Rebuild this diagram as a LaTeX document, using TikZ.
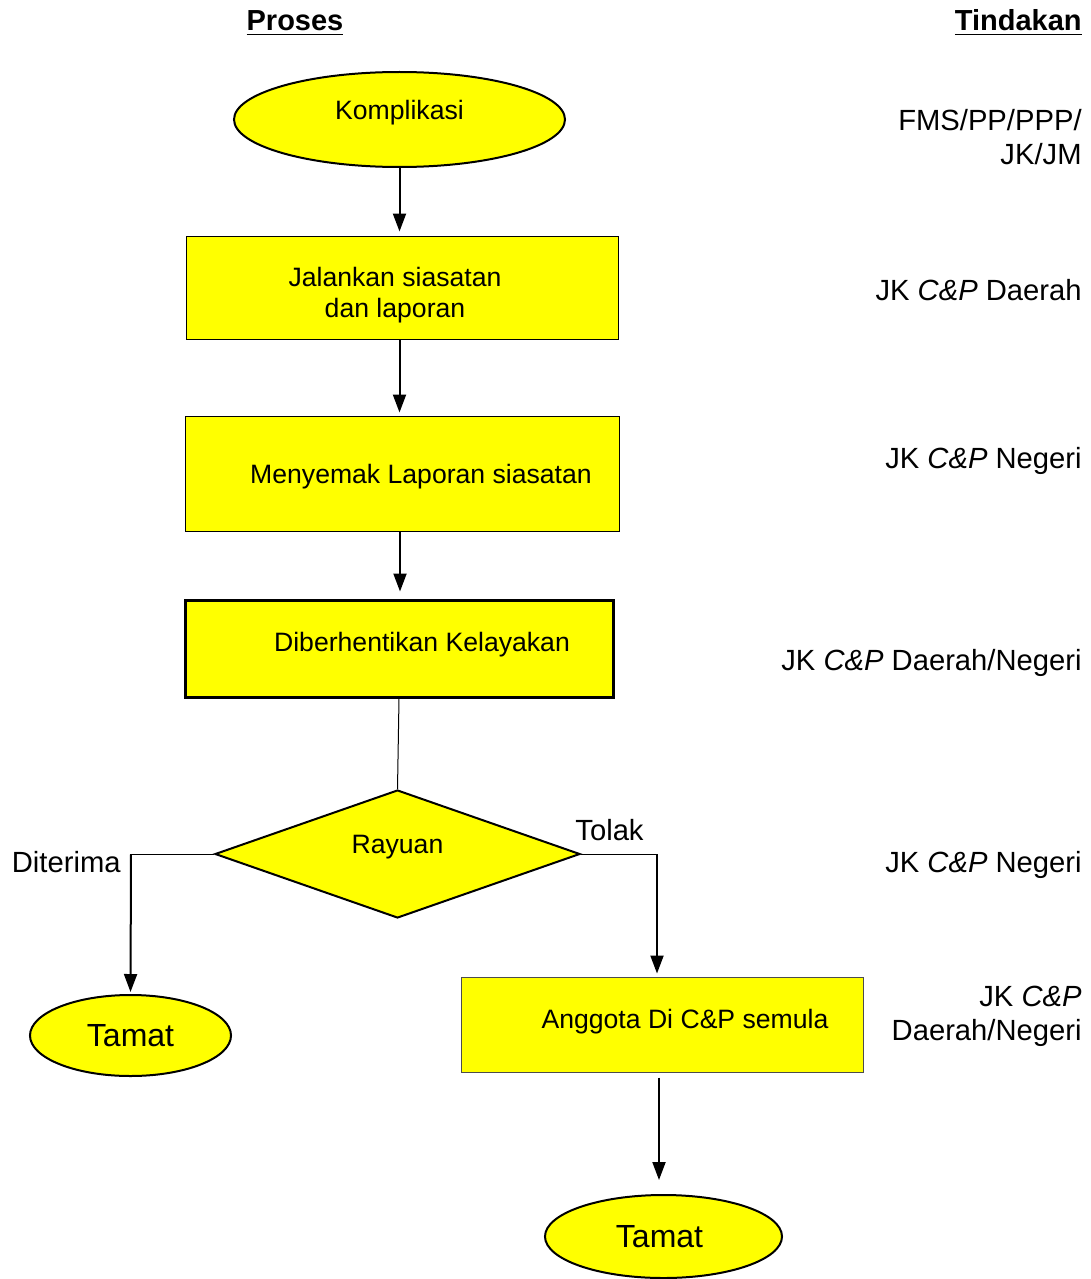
\documentclass[tikz,border=0pt]{standalone}
\usepackage{fontspec}
\setmainfont{Liberation Sans}
\usetikzlibrary{shapes.geometric}
\usetikzlibrary{arrows.meta}
\definecolor{kuning}{RGB}{255,255,0}

\begin{document}
\begin{tikzpicture}[x=0.5pt, y=-0.5pt, font=\fontsize{13.3}{15.5}\selectfont,
		kotak/.style={rectangle, draw, fill=kuning, inner sep=0pt, line width=0.5pt},
		hujung/.style={ellipse, draw, fill=kuning, inner sep=0pt, line width=1pt},
		keputusan/.style={diamond, aspect=2.85, draw, fill=kuning, inner sep=0pt, line width=1pt},
		panah/.style={-{Triangle[width=6.5pt, length=9pt]}, line width=1pt},
		garis/.style={line width=0.5pt},
		tindakan/.style={anchor=east, align=right, inner sep=0pt, font=\fontsize{14.6}{17}\selectfont},
		tajuk/.style={anchor=base, inner sep=0pt, font=\fontsize{14.5}{17}\selectfont\bfseries}]
		\useasboundingbox (0,0) rectangle (1091,1279);
		\node [tajuk] (proses) at (295,31) {\underline{Proses}};
		\node [tajuk, anchor=base east] (tindakan) at (1082,31) {\underline{Tindakan}};
		\node [hujung, minimum width=165.5pt, minimum height=47.5pt,
			label={[yshift=3.25pt]center:Komplikasi}] (komplikasi) at (399.5,119.5) {};
		\node [kotak, minimum width=216pt, minimum height=51.5pt,
			label={[align=center, xshift=-3.5pt, yshift=-4pt]center:Jalankan siasatan\\dan laporan}] (jalankan) at (402,287.5) {};
		\node [kotak, minimum width=217pt, minimum height=57.5pt,
			label={[xshift=9.5pt, yshift=-1.5pt]center:Menyemak Laporan siasatan}] (menyemak) at (402,473.5) {};
		\node [kotak, line width=1.5pt, minimum width=214pt, minimum height=48.5pt,
			label={[xshift=11.5pt, yshift=1.75pt]center:Diberhentikan Kelayakan}] (diberhentikan) at (399,648.5) {};
		\node [keputusan, minimum width=182.5pt, minimum height=64pt,
			label={[yshift=3.5pt]center:Rayuan}] (rayuan) at (397.5,854) {};
		\node [hujung, minimum width=100.5pt, minimum height=40.5pt, font=\fontsize{16}{19}\selectfont] (tamatkiri) at (130.5,1035.5) {Tamat};
		\node [kotak, draw=black!70, minimum width=201pt, minimum height=47.5pt,
			label={[xshift=11.5pt, yshift=1.25pt]center:Anggota Di C\&P semula}] (anggota) at (662,1024.5) {};
		\node [hujung, minimum width=118.5pt, minimum height=41.5pt, font=\fontsize{16}{19}\selectfont,
			label={[xshift=-2pt, font=\fontsize{16}{19}\selectfont]center:Tamat}] (tamatkanan) at (663.5,1236.5) {};
		\coordinate (kiri) at (131,854);
		\coordinate (kanan) at (657,854);

		\draw [panah, shorten >=2pt] (komplikasi.south) -- (komplikasi.south |- jalankan.north);
		\draw [panah, shorten >=1.5pt] (jalankan.south -| komplikasi) -- (komplikasi |- menyemak.north);
		\draw [panah, shorten >=3.5pt] (menyemak.south -| 400,0) -- (400,0 |- diberhentikan.north);
		\draw [garis] (diberhentikan.south) -- (rayuan.north);
		\draw [garis] (rayuan.west) -- (kiri);
		\draw [panah, shorten >=1pt] (kiri) -- (tamatkiri.north);
		\draw [garis] (rayuan.east) -- (kanan);
		\draw [panah, shorten >=1.5pt] (kanan) -- (kanan |- anggota.north);
		\draw [panah, shorten <=2.5pt, shorten >=7pt] (anggota.south -| 659,0) -- (659,0 |- tamatkanan.north);

		\node [anchor=base east, inner sep=0pt, font=\fontsize{14.6}{17}\selectfont] (diterima) at (121,872) {Diterima};
		\node [anchor=base west, inner sep=0pt, font=\fontsize{14.6}{17}\selectfont] (tolak) at (575,840) {Tolak};

		\node [tindakan] (t1) at (1082,137) {FMS/PP/PPP/\\JK/JM};
		\node [tindakan] (t2) at (1082,290) {JK \textit{C\&P} Daerah};
		\node [tindakan] (t3) at (1082,461) {JK \textit{C\&P} Negeri};
		\node [tindakan] (t4) at (1082,663) {JK \textit{C\&P} Daerah/Negeri};
		\node [tindakan] (t5) at (1082,865) {JK \textit{C\&P} Negeri};
		\node [tindakan] (t6) at (1082,1016) {JK \textit{C\&P}\\Daerah/Negeri};
	\end{tikzpicture}
\end{document}
